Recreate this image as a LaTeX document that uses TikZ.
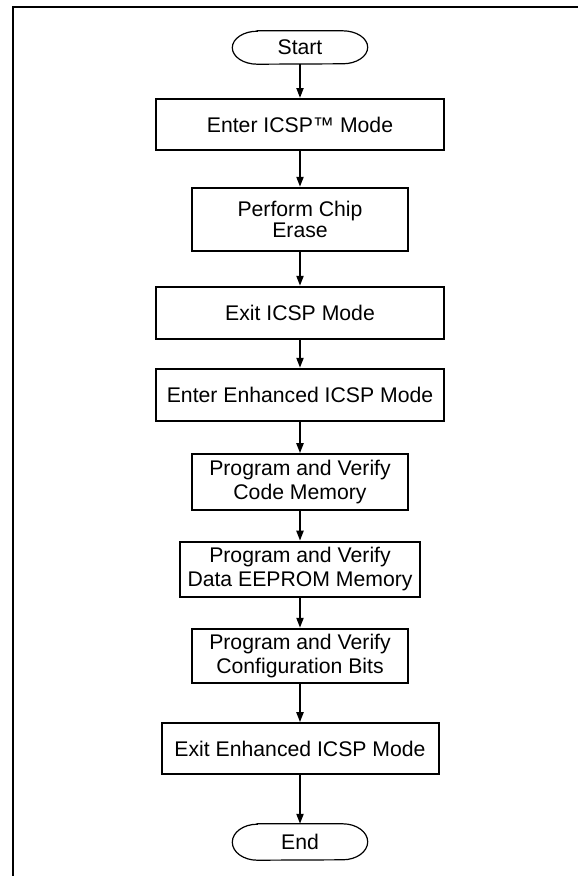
\documentclass[tikz,border=0pt]{standalone}
\usepackage{fontspec}
\setmainfont{Liberation Sans}
\usetikzlibrary{arrows.meta}
\tikzset{
  stepbox/.style={draw, line width=2pt, inner sep=0pt, align=center,
    font=\fontsize{21.2}{23.5}\selectfont},
  termnode/.style={inner sep=0pt, minimum width=135pt, align=center,
    font=\fontsize{21.2}{23.5}\selectfont},
  termline/.style={line width=1.2pt},
  arr/.style={line width=2pt, -{Triangle[length=10pt,width=7pt]}},
  frameline/.style={line width=2pt}
}
\begin{document}
\begin{tikzpicture}[x=1pt,y=-1pt]
\useasboundingbox (0,0) rectangle (578,876);
\draw[frameline] (13,876) -- (13,7) -- (578,7);

\node[termnode, minimum height=33pt] (s) at (300,47.5) {Start};
\node[stepbox, minimum width=288pt, minimum height=51pt] (b1) at (300,124.5) {Enter ICSP™ Mode};
\node[stepbox, minimum width=216pt, minimum height=63pt, font=\fontsize{21.2}{21.5}\selectfont] (b2) at (300,219.3) {Perform Chip\\Erase};
\node[stepbox, minimum width=288pt, minimum height=52pt] (b3) at (300,312.8) {Exit ICSP Mode};
\node[stepbox, minimum width=288pt, minimum height=52pt] (b4) at (300,394.8) {Enter Enhanced ICSP Mode};
\node[stepbox, minimum width=216pt, minimum height=56pt] (b5) at (300,482.2) {Program and Verify\\Code Memory};
\node[stepbox, minimum width=240pt, minimum height=55pt] (b6) at (300,569.2) {Program and Verify\\Data EEPROM Memory};
\node[stepbox, minimum width=216pt, minimum height=54pt] (b7) at (300,655.8) {Program and Verify\\Configuration Bits};
\node[stepbox, minimum width=277pt, minimum height=51pt] (b8) at (300,748.7) {Exit Enhanced ICSP Mode};
\node[termnode, minimum height=36pt] (e) at (300,842) {End};

\draw[termline] ([xshift=25pt]s.north west) -- ([xshift=-25pt]s.north east)
  arc[start angle=90,end angle=-90,x radius=25pt,y radius=16.5pt]
  -- ([xshift=25pt]s.south west)
  arc[start angle=270,end angle=90,x radius=25pt,y radius=16.5pt] -- cycle;
\draw[termline] ([xshift=25pt]e.north west) -- ([xshift=-25pt]e.north east)
  arc[start angle=90,end angle=-90,x radius=25pt,y radius=18pt]
  -- ([xshift=25pt]e.south west)
  arc[start angle=270,end angle=90,x radius=25pt,y radius=18pt] -- cycle;

\draw[arr] (s) -- (b1);
\draw[arr] (b1) -- (b2);
\draw[arr] (b2) -- (b3);
\draw[arr] (b3) -- (b4);
\draw[arr] (b4) -- (b5);
\draw[arr] (b5) -- (b6);
\draw[arr] (b6) -- (b7);
\draw[arr] (b7) -- (b8);
\draw[arr] (b8) -- (e);
\end{tikzpicture}
\end{document}
